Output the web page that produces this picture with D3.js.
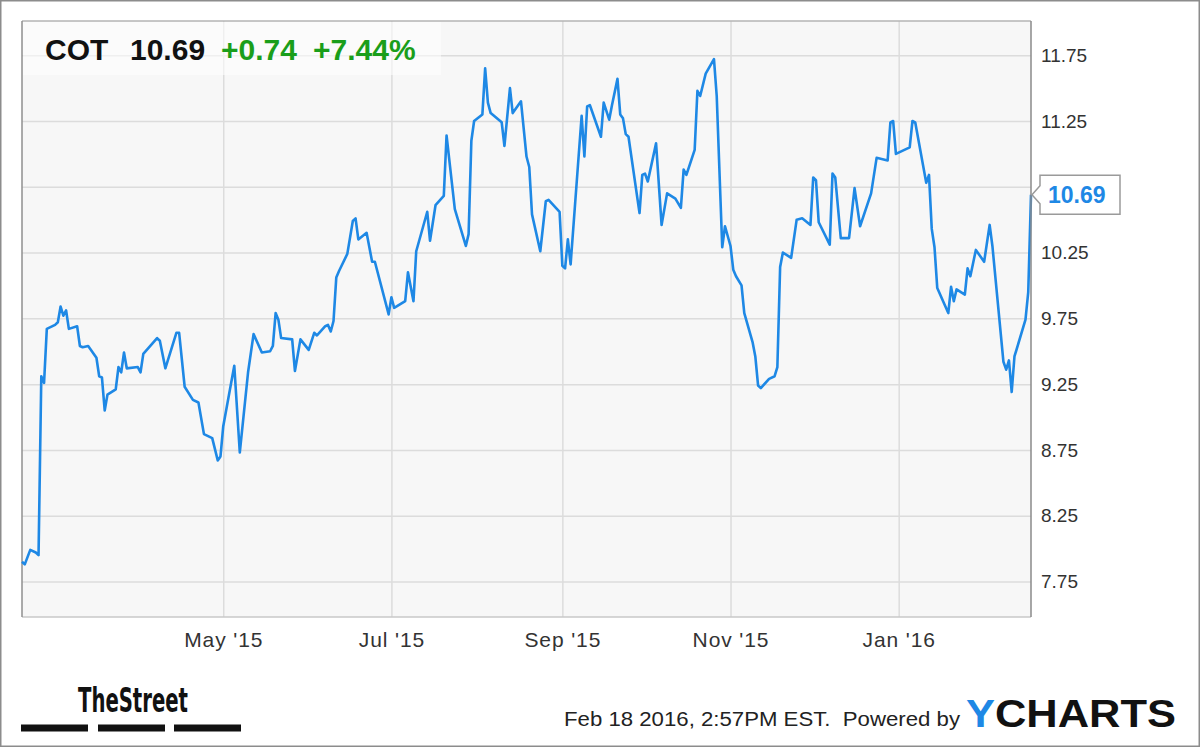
<!DOCTYPE html>
<html>
<head>
<meta charset="utf-8">
<script src="https://cdn.jsdelivr.net/npm/d3@7"></script>
<style>
  html, body { margin: 0; padding: 0; background: #fff; }
  svg { display: block; font-family: "Liberation Sans", Arial, sans-serif; }
</style>
</head>
<body>
<svg id="chart" width="1200" height="747"></svg>
<script>
// ---- data ----
const ticker = "COT";
const lastPrice = "10.69";
const changeAbs = "+0.74";
const changePct = "+7.44%";

const dates = [
  "2015-02-17","2015-02-18","2015-02-20","2015-02-22","2015-02-23","2015-02-24","2015-02-25","2015-02-26",
  "2015-03-01","2015-03-02","2015-03-03","2015-03-04","2015-03-05","2015-03-06","2015-03-09","2015-03-10",
  "2015-03-11","2015-03-13","2015-03-16","2015-03-17","2015-03-18","2015-03-19","2015-03-20","2015-03-23",
  "2015-03-24","2015-03-25","2015-03-26","2015-03-27","2015-03-31","2015-04-01","2015-04-02","2015-04-07",
  "2015-04-08","2015-04-10","2015-04-14","2015-04-15","2015-04-17","2015-04-20","2015-04-22","2015-04-24",
  "2015-04-27","2015-04-29","2015-04-30","2015-05-01","2015-05-05","2015-05-07","2015-05-10","2015-05-12",
  "2015-05-15","2015-05-18","2015-05-19","2015-05-20","2015-05-21","2015-05-22","2015-05-26","2015-05-27",
  "2015-05-29","2015-06-01","2015-06-03","2015-06-04","2015-06-07","2015-06-08","2015-06-09","2015-06-10",
  "2015-06-11","2015-06-12","2015-06-15","2015-06-17","2015-06-18","2015-06-19","2015-06-22","2015-06-24",
  "2015-06-25","2015-06-30","2015-07-01","2015-07-02","2015-07-06","2015-07-07","2015-07-09","2015-07-10",
  "2015-07-14","2015-07-15","2015-07-17","2015-07-20","2015-07-21","2015-07-24","2015-07-28","2015-07-29",
  "2015-07-30","2015-07-31","2015-08-03","2015-08-04","2015-08-05","2015-08-06","2015-08-10","2015-08-11",
  "2015-08-13","2015-08-14","2015-08-17","2015-08-19","2015-08-20","2015-08-21","2015-08-24","2015-08-26",
  "2015-08-27","2015-08-31","2015-09-01","2015-09-02","2015-09-03","2015-09-04","2015-09-08","2015-09-09",
  "2015-09-10","2015-09-11","2015-09-15","2015-09-16","2015-09-18","2015-09-19","2015-09-21","2015-09-22",
  "2015-09-23","2015-09-24","2015-09-25","2015-09-29","2015-09-30","2015-10-01","2015-10-02","2015-10-05",
  "2015-10-07","2015-10-09","2015-10-12","2015-10-14","2015-10-15","2015-10-16","2015-10-19","2015-10-20",
  "2015-10-21","2015-10-23","2015-10-26","2015-10-27","2015-10-29","2015-10-30","2015-11-01","2015-11-02",
  "2015-11-03","2015-11-05","2015-11-06","2015-11-09","2015-11-10","2015-11-11","2015-11-12","2015-11-15",
  "2015-11-17","2015-11-18","2015-11-19","2015-11-20","2015-11-23","2015-11-25","2015-11-27","2015-11-30",
  "2015-12-01","2015-12-02","2015-12-03","2015-12-07","2015-12-08","2015-12-09","2015-12-11","2015-12-14",
  "2015-12-16","2015-12-18","2015-12-22","2015-12-24","2015-12-28","2015-12-29","2015-12-30","2015-12-31",
  "2016-01-05","2016-01-06","2016-01-07","2016-01-11","2016-01-12","2016-01-13","2016-01-14","2016-01-15",
  "2016-01-19","2016-01-20","2016-01-21","2016-01-22","2016-01-25","2016-01-26","2016-01-27","2016-01-29",
  "2016-02-01","2016-02-03","2016-02-04","2016-02-08","2016-02-09","2016-02-10","2016-02-11","2016-02-12",
  "2016-02-16","2016-02-17","2016-02-18"
];

const prices = [
  7.90, 7.88, 7.99, 7.97, 7.95, 9.31, 9.26, 9.67,
  9.70, 9.72, 9.84, 9.77, 9.81, 9.67, 9.69, 9.54,
  9.53, 9.54, 9.45, 9.31, 9.30, 9.05, 9.17, 9.21,
  9.38, 9.34, 9.49, 9.37, 9.38, 9.34, 9.48, 9.60,
  9.58, 9.37, 9.64, 9.64, 9.23, 9.13, 9.11, 8.87,
  8.84, 8.67, 8.70, 8.93, 9.39, 8.73, 9.34, 9.63,
  9.49, 9.50, 9.54, 9.79, 9.74, 9.60, 9.59, 9.35,
  9.59, 9.51, 9.64, 9.62, 9.69, 9.70, 9.65, 9.73,
  10.06, 10.11, 10.24, 10.49, 10.51, 10.35, 10.40, 10.18,
  10.18, 9.78, 9.91, 9.83, 9.88, 10.10, 9.88, 10.26,
  10.56, 10.34, 10.61, 10.68, 11.14, 10.58, 10.30, 10.39,
  11.10, 11.25, 11.30, 11.65, 11.39, 11.31, 11.24, 11.06,
  11.50, 11.31, 11.40, 10.98, 10.90, 10.54, 10.26, 10.64,
  10.65, 10.56, 10.15, 10.13, 10.35, 10.16, 11.29, 10.98,
  11.36, 11.37, 11.13, 11.39, 11.26, 11.37, 11.57, 11.30,
  11.27, 11.15, 11.13, 10.55, 10.84, 10.85, 10.79, 11.08,
  10.46, 10.70, 10.66, 10.59, 10.88, 10.84, 11.03, 11.48,
  11.44, 11.61, 11.72, 11.44, 10.29, 10.45, 10.30, 10.12,
  10.07, 10.00, 9.79, 9.57, 9.46, 9.24, 9.22, 9.29,
  9.31, 9.38, 10.14, 10.25, 10.21, 10.50, 10.51, 10.46,
  10.82, 10.80, 10.48, 10.31, 10.85, 10.82, 10.36, 10.36,
  10.74, 10.45, 10.70, 10.97, 10.95, 11.24, 11.25, 11.00,
  11.05, 11.25, 11.24, 10.78, 10.84, 10.43, 10.29, 9.98,
  9.79, 9.99, 9.88, 9.97, 9.93, 10.13, 10.07, 10.27,
  10.18, 10.46, 10.30, 9.42, 9.36, 9.43, 9.19, 9.46,
  9.74, 9.95, 10.69
];

const yTicks = [7.75, 8.25, 8.75, 9.25, 9.75, 10.25, 10.75, 11.25, 11.75];
const xTickDates = ["2015-05-01", "2015-07-01", "2015-09-01", "2015-11-01", "2016-01-01"];
const xTickLabels = ["May '15", "Jul '15", "Sep '15", "Nov '15", "Jan '16"];
const domainDates = ["2015-02-17", "2016-02-18"];
const yDomain = [7.48, 12.01];
const footerText = "Feb 18 2016, 2:57PM EST.  Powered by";

// ---- drawing ----
const parse = d3.utcParse("%Y-%m-%d");
const data = dates.map((d, i) => ({ date: parse(d), value: prices[i] }));

const svg = d3.select("#chart");
const W = 1200, H = 747;
const plot = { left: 22, right: 1031, top: 21, bottom: 617 };

svg.append("rect").attr("x", 0).attr("y", 0).attr("width", W).attr("height", H).attr("fill", "#fff");

const x = d3.scaleUtc().domain(domainDates.map(parse)).range([plot.left, plot.right]);
const y = d3.scaleLinear().domain(yDomain).range([plot.bottom, plot.top]);

// plot background
svg.append("rect")
  .attr("x", plot.left).attr("y", plot.top)
  .attr("width", plot.right - plot.left).attr("height", plot.bottom - plot.top)
  .attr("fill", "#f7f7f7");

// horizontal gridlines
const gy = svg.append("g")
  .attr("transform", `translate(${plot.right},0)`)
  .call(d3.axisLeft(y).tickValues(yTicks).tickSize(plot.right - plot.left).tickFormat(""));
gy.select(".domain").remove();
gy.selectAll(".tick line").attr("stroke", "#dcdcdc").attr("stroke-width", 1.5);

// vertical gridlines
const gx = svg.append("g")
  .attr("transform", `translate(0,${plot.bottom})`)
  .call(d3.axisBottom(x).tickValues(xTickDates.map(parse)).tickSize(-(plot.bottom - plot.top)).tickFormat(""));
gx.select(".domain").remove();
gx.selectAll(".tick line").attr("stroke", "#dcdcdc").attr("stroke-width", 1.5);

// plot frame
svg.append("line").attr("x1", plot.left).attr("x2", plot.right).attr("y1", plot.top).attr("y2", plot.top)
  .attr("stroke", "#b5b5b5").attr("stroke-width", 1.5);
svg.append("line").attr("x1", plot.left).attr("x2", plot.right).attr("y1", plot.bottom).attr("y2", plot.bottom)
  .attr("stroke", "#c8c8c8").attr("stroke-width", 1.5);
svg.append("line").attr("x1", plot.left).attr("x2", plot.left).attr("y1", plot.top).attr("y2", plot.bottom)
  .attr("stroke", "#8f8f8f").attr("stroke-width", 1.5);

// price line
const line = d3.line().x(d => x(d.date)).y(d => y(d.value));
svg.append("path").datum(data)
  .attr("d", line)
  .attr("fill", "none")
  .attr("stroke", "#1e88e5")
  .attr("stroke-width", 2.6)
  .attr("stroke-linejoin", "round");

// last value position (flag covers the tick label behind it)
const last = data[data.length - 1];
const ly = y(last.value);

// right axis
const ay = svg.append("g")
  .attr("transform", `translate(${plot.right},0)`)
  .call(d3.axisRight(y).tickValues(yTicks.filter(t => Math.abs(y(t) - ly) > 22))
    .tickSize(0).tickPadding(10).tickFormat(d3.format(".2f")));
ay.select(".domain").attr("stroke", "#8a8a8a").attr("stroke-width", 1.5)
  .attr("d", `M0,${plot.top}V${plot.bottom}`);
ay.selectAll("text").attr("font-size", 19).attr("fill", "#333").attr("font-family", "Liberation Sans, Arial, sans-serif");

// bottom axis labels
const ax = svg.append("g")
  .attr("transform", `translate(0,${plot.bottom})`)
  .call(d3.axisBottom(x).tickValues(xTickDates.map(parse)).tickSize(0).tickPadding(15)
    .tickFormat((d, i) => xTickLabels[i]));
ax.select(".domain").remove();
ax.selectAll("text").attr("font-size", 21).attr("letter-spacing", 0.9).attr("fill", "#333")
  .attr("font-family", "Liberation Sans, Arial, sans-serif");

// header box
svg.append("rect").attr("x", plot.left + 1).attr("y", plot.top + 1)
  .attr("width", 418).attr("height", 53).attr("fill", "rgba(255,255,255,0.55)");
const hdr = svg.append("text").attr("y", 60).attr("font-size", 30).attr("font-weight", "bold");
hdr.append("tspan").attr("x", 45).attr("fill", "#111").text(ticker);
hdr.append("tspan").attr("x", 130).attr("fill", "#111").text(lastPrice);
hdr.append("tspan").attr("x", 221).attr("fill", "#1a9e1a").text(changeAbs);
hdr.append("tspan").attr("x", 313).attr("fill", "#1a9e1a").text(changePct);

// last value flag
const fx = plot.right, bx = 1040, bw = 80, bh = 39;
svg.append("path")
  .attr("d", `M${fx + 1},${ly} L${bx},${ly - 9} L${bx},${ly - bh / 2} L${bx + bw},${ly - bh / 2} L${bx + bw},${ly + bh / 2} L${bx},${ly + bh / 2} L${bx},${ly + 9} Z`)
  .attr("fill", "#fff").attr("stroke", "#9a9a9a").attr("stroke-width", 1.5);
svg.append("text").attr("x", bx + 8).attr("y", ly + 8.5)
  .attr("font-size", 23).attr("font-weight", "bold").attr("fill", "#1e88e5")
  .text(d3.format(".2f")(last.value));

// footer: TheStreet logo
svg.append("text").attr("x", 78).attr("y", 712)
  .attr("font-family", "'Liberation Sans Narrow', 'DejaVu Sans Condensed', sans-serif")
  .attr("font-size", 33).attr("font-weight", "bold").attr("fill", "#111")
  .attr("textLength", 110).attr("lengthAdjust", "spacingAndGlyphs")
  .text("TheStreet");
[[21, 88], [98, 165], [174, 241]].forEach(([a, b]) => {
  svg.append("rect").attr("x", a).attr("y", 724.5).attr("width", b - a).attr("height", 7).attr("fill", "#111");
});

// footer: timestamp & YCHARTS
svg.append("text").attr("x", 564).attr("y", 726)
  .attr("font-size", 20).attr("fill", "#222")
  .attr("xml:space", "preserve")
  .attr("textLength", 396).attr("lengthAdjust", "spacingAndGlyphs")
  .text(footerText);
const yc = svg.append("text").attr("x", 966).attr("y", 727)
  .attr("font-size", 38).attr("font-weight", "bold")
  .attr("textLength", 210).attr("lengthAdjust", "spacingAndGlyphs");
yc.append("tspan").attr("fill", "#1e88e5").text("Y");
yc.append("tspan").attr("fill", "#111").text("CHARTS");

// outer border
svg.append("rect").attr("x", 0.75).attr("y", 0.75).attr("width", W - 1.5).attr("height", H - 1.5)
  .attr("fill", "none").attr("stroke", "#8c8c8c").attr("stroke-width", 1.5);
</script>
</body>
</html>
